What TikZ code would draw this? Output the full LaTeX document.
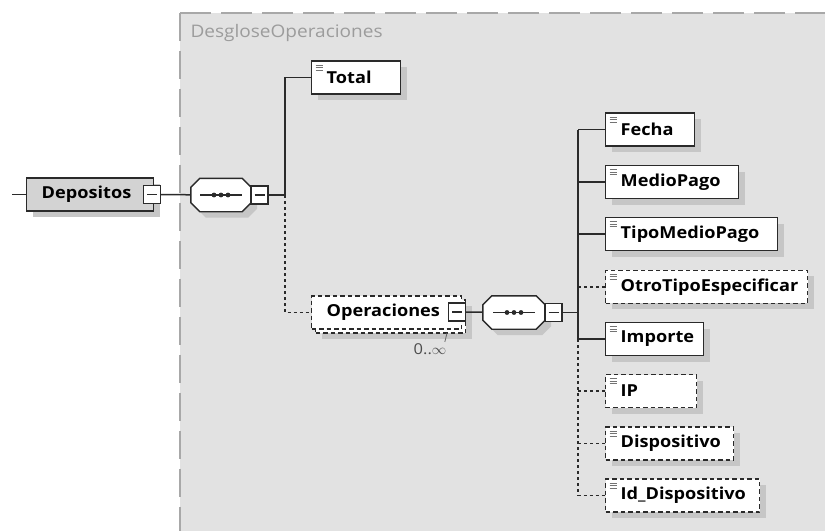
\documentclass[tikz,border=0pt]{standalone}
\usepackage{fontspec}
\setmainfont{Open Sans}[FakeStretch=1.1]
\usepackage{tikz}
\usetikzlibrary{positioning}
\usetikzlibrary{shadows}
\definecolor{framegray}{HTML}{E2E2E2}
\definecolor{dashgray}{HTML}{A8A8A8}
\definecolor{labelgray}{HTML}{9C9C9C}
\definecolor{boxline}{HTML}{2A2A2A}
\definecolor{shadowgray}{HTML}{C6C6C6}
\definecolor{elemgray}{HTML}{D3D3D3}
\newcommand{\elemfont}{\fontsize{16.5}{19}\selectfont\bfseries}
\newcommand{\seqpath}[1]{([xshift=9pt]#1.north west) -- ([xshift=-9pt]#1.north east)
	-- ([yshift=-9pt]#1.north east) -- ([yshift=9pt]#1.south east)
	-- ([xshift=-9pt]#1.south east) -- ([xshift=9pt]#1.south west)
	-- ([yshift=9pt]#1.south west) -- ([yshift=-9pt]#1.north west) -- cycle}

\tikzset{
	elembase/.style={draw=boxline, fill=white, line width=1.4pt, anchor=west,
		minimum height=33pt, inner xsep=15pt, inner ysep=0pt,
		align=left, text width=#1, font=\elemfont},
	boxshadow/.style={drop shadow={shadow xshift=6pt, shadow yshift=-6pt,
		fill=shadowgray, draw=none, opacity=1}},
	leaf/.style={elembase=#1, boxshadow,
		path picture={\foreach \k in {4,6.5,9}
			\draw[solid, line width=0.8pt, black!55]
				([shift={(4pt,-\k pt)}]path picture bounding box.north west) -- ++(7pt,0);}},
	optline/.style={dash pattern=on 4.5pt off 3pt},
	optleaf/.style={leaf=#1, optline},
	mbox/.style={draw=boxline, fill=white, line width=1.3pt, minimum width=17pt,
		minimum height=18pt, inner sep=0pt,
		path picture={\draw[line width=1.3pt, boxline]
			([xshift=3.5pt]path picture bounding box.west) --
			([xshift=-3.5pt]path picture bounding box.east);}},
	seqnode/.style={rectangle, minimum width=60pt, minimum height=33pt, inner sep=0pt},
	seqline/.style={draw=boxline, fill=white, line width=1.4pt},
	link/.style={line width=1.5pt, boxline},
	optlink/.style={link, line width=1.8pt, dash pattern=on 3pt off 3pt},
}

\begin{document}
\begin{tikzpicture}[x=1pt, y=-1pt]
		\useasboundingbox (0,0) rectangle (825,531);
		% Group frame
		\fill[framegray] (180,12.5) rectangle (825,531);
		\draw[dashgray, line width=2pt, dash pattern=on 31pt off 10pt] (180,12.5) -- (825,12.5);
		\draw[dashgray, line width=2pt, dash pattern=on 28pt off 10pt] (180,12.5) -- (180,531);
		\node[anchor=west, text=labelgray, font=\fontsize{17.3}{20}\selectfont] (frameLabel) at (187,33) {DesgloseOperaciones};

		% Root element
		\coordinate (depositosIn) at (12,194.5);
		\node[elembase=97pt, fill=elemgray, boxshadow] (depositos) at (26,194.5) {Depositos};
		\node[mbox] (depositosM) at (152,194.5) {};
		\draw[link] (depositosIn) -- (depositos);

		% First sequence
		\node[seqnode] (seqA) at (221,195) {};
		\fill[shadowgray, transform canvas={shift={(6pt,-6pt)}}] \seqpath{seqA};
		\draw[seqline] \seqpath{seqA};
		\node[mbox] (seqAM) at (259.5,195) {};
		\draw[link] ([xshift=-21pt]seqA.center) -- ([xshift=21pt]seqA.center);
		\foreach \d in {-7,0,7}
			\fill[boxline] ([xshift=\d pt]seqA.center) circle (2.4pt);
		\coordinate (trunkA) at (285,195);
		\draw[link] (depositosM) -- (seqA);
		\draw[link] (seqAM) -- (trunkA);

		% Total
		\node[leaf=59pt] (total) at (311,77.5) {Total};
		\draw[link] (trunkA) |- (total);

		% Operaciones (repeated)
		\node[elembase=120pt, optline, boxshadow] (operacionesBack) at (315,316.5) {};
		\node[elembase=120pt, optline] (operaciones) at (311,312.5) {Operaciones};
		\node[mbox] (operacionesM) at (457,312) {};
		\draw[optlink] (trunkA) |- (operaciones);
		\node[text=black!70, font=\fontsize{15}{18}\selectfont] (mult) at (430,349) {0..$\infty$};
		\coordinate (multTick) at (447,333);
		\draw[line width=0.8pt, black!60] ([xshift=-5pt, yshift=-2pt]mult.north east) -- (multTick);

		% Second sequence
		\node[seqnode, minimum width=62pt] (seqB) at (514,312.5) {};
		\fill[shadowgray, transform canvas={shift={(6pt,-6pt)}}] \seqpath{seqB};
		\draw[seqline] \seqpath{seqB};
		\node[mbox] (seqBM) at (553.5,312.5) {};
		\draw[link] ([xshift=-21pt]seqB.center) -- ([xshift=21pt]seqB.center);
		\foreach \d in {-7,0,7}
			\fill[boxline] ([xshift=\d pt]seqB.center) circle (2.4pt);
		\coordinate (trunkB) at (578,312.5);
		\draw[link] (operacionesM) -- (seqB);
		\draw[link] (seqBM) -- (trunkB);

		% Children of the sequence
		\node[leaf=59pt] (fecha) at (605,129.5) {Fecha};
		\node[leaf=103pt] (medioPago) at (605,182) {MedioPago};
		\node[leaf=142pt] (tipoMedioPago) at (605,234) {TipoMedioPago};
		\node[optleaf=172pt] (otroTipo) at (605,286.7) {OtroTipoEspecificar};
		\node[leaf=68pt] (importe) at (605,339) {Importe};
		\node[optleaf=61pt] (ip) at (605,391) {IP};
		\node[optleaf=98pt] (dispositivo) at (605,443.5) {Dispositivo};
		\node[optleaf=124pt] (idDispositivo) at (605,495.5) {Id\_Dispositivo};

		% Mandatory branches
		\draw[link] (trunkB |- fecha) |- (fecha);
		\draw[link] (trunkB |- fecha) |- (importe);
		\draw[link] (trunkB |- medioPago) -- (medioPago);
		\draw[link] (trunkB |- tipoMedioPago) -- (tipoMedioPago);
		% Optional branches
		\draw[optlink] (trunkB |- otroTipo) -- (otroTipo);
		\draw[optlink] (trunkB |- importe) |- (idDispositivo);
		\draw[optlink] (trunkB |- ip) -- (ip);
		\draw[optlink] (trunkB |- dispositivo) -- (dispositivo);

	\end{tikzpicture}
\end{document}
